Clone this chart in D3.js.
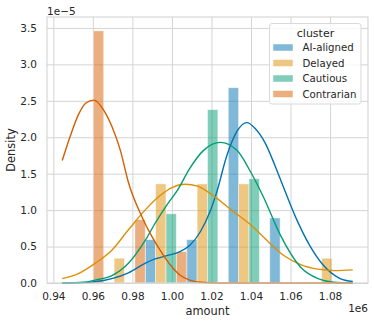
<!DOCTYPE html>
<html>
<head>
<meta charset="utf-8">
<script src="https://cdn.jsdelivr.net/npm/d3@7"></script>
<style>
  body { margin: 0; background: #fff; }
  svg { font-family: "DejaVu Sans", sans-serif; }
</style>
</head>
<body>
<svg id="chart" width="374" height="323"></svg>
<script>
// amounts are in units of 1e6, densities in units of 1e-5 (as on the axes)
var clusters = ["AI-aligned", "Delayed", "Cautious", "Contrarian"];
var colors = ["#0173b2", "#de8f05", "#029e73", "#d55e00"];

var binEdges = [0.9445, 0.9655, 0.9865, 1.0075, 1.0285, 1.0495, 1.0705, 1.0915];

var barsAI         = [0, 0, 0.595, 0.595, 2.68, 0.893, 0];
var barsDelayed    = [0, 0.34, 1.36, 1.36, 1.36, 0, 0.34];
var barsCautious   = [0, 0, 0.95, 2.38, 1.43, 0, 0];
var barsContrarian = [3.46, 0.87, 0.43, 0, 0, 0, 0];

var kdeAI = [[0.9445,0],[0.955,0.005],[0.962,0.02],[0.9696,0.06],[0.978,0.14],[0.9864,0.27],
  [0.9915,0.33],[0.9974,0.375],[1.0041,0.43],[1.0092,0.52],[1.0143,0.70],[1.0193,0.98],
  [1.0227,1.25],[1.0278,1.75],[1.0329,2.08],[1.0379,2.2],[1.0421,2.12],[1.0472,1.92],
  [1.0523,1.60],[1.0562,1.33],[1.0628,0.89],[1.0696,0.52],[1.0764,0.25],[1.0848,0.065],[1.0915,0.02]];
var kdeDelayed = [[0.9445,0.06],[0.9527,0.13],[0.9611,0.27],[0.9696,0.45],[0.978,0.73],
  [0.9864,1.0],[0.994,1.2],[1.0,1.31],[1.0066,1.355],[1.013,1.33],[1.0193,1.23],[1.0311,0.98],
  [1.0402,0.79],[1.0486,0.57],[1.057,0.37],[1.0654,0.25],[1.0739,0.19],[1.0823,0.17],[1.0915,0.18]];
var kdeCautious = [[0.9445,0],[0.955,0.01],[0.9611,0.04],[0.9696,0.10],[0.978,0.27],[0.9864,0.58],
  [0.9915,0.82],[0.9974,1.07],[1.0025,1.26],[1.0092,1.58],[1.016,1.82],[1.0245,1.93],
  [1.0329,1.82],[1.0397,1.53],[1.0463,1.18],[1.0548,0.66],[1.065,0.22],[1.0739,0.06],
  [1.082,0.01],[1.0915,0]];
var kdeContrarian = [[0.9445,1.68],[0.9485,2.01],[0.9527,2.31],[0.9565,2.47],[0.9605,2.51],
  [0.9653,2.38],[0.9696,2.15],[0.9738,1.83],[0.978,1.38],[0.9848,0.91],[0.989,0.68],
  [0.994,0.45],[0.9991,0.25],[1.004,0.11],[1.009,0.04],[1.015,0.01],[1.022,0],[1.04,0],
  [1.06,0],[1.0915,0]];

var xTicks = [0.94, 0.96, 0.98, 1.00, 1.02, 1.04, 1.06, 1.08];
var yTicks = [0, 0.5, 1.0, 1.5, 2.0, 2.5, 3.0, 3.5];

var bars = [barsAI, barsDelayed, barsCautious, barsContrarian];
var kdes = [kdeAI, kdeDelayed, kdeCautious, kdeContrarian];

var svg = d3.select("#chart");
var mLeft = 47, mRight = 368, mTop = 17, mBottom = 283;
var textColor = "#262626", gridColor = "#d4d4d4";

var x = d3.scaleLinear().domain([0.9368, 1.0992]).range([mLeft, mRight]);
var y = d3.scaleLinear().domain([0, 3.65]).range([mBottom, mTop]);

// GRID + AXES
var xAxis = svg.append("g")
    .attr("transform", "translate(0," + mBottom + ")")
    .call(d3.axisBottom(x).tickValues(xTicks).tickSize(-(mBottom - mTop)).tickPadding(10)
      .tickFormat(function(d){ return d.toFixed(2); }));
var yAxis = svg.append("g")
    .attr("transform", "translate(" + mLeft + ",0)")
    .call(d3.axisLeft(y).tickValues(yTicks).tickSize(-(mRight - mLeft)).tickPadding(10)
      .tickFormat(function(d){ return d.toFixed(1); }));

[xAxis, yAxis].forEach(function(g){
  g.select(".domain").remove();
  g.selectAll(".tick line").attr("stroke", gridColor).attr("stroke-width", 1);
  g.selectAll(".tick text")
      .attr("fill", textColor)
      .style("font-size", "10.5px")
      .style("font-family", "DejaVu Sans");
});

// BARS
var bw = binEdges[1] - binEdges[0];
clusters.forEach(function(c, k){
  svg.append("g").selectAll("rect")
      .data(bars[k])
    .enter().append("rect")
      .attr("x", function(d, i){ return x(binEdges[i] + k * bw / 4); })
      .attr("width", function(d, i){ return x(binEdges[i] + (k + 1) * bw / 4) - x(binEdges[i] + k * bw / 4); })
      .attr("y", function(d){ return y(d); })
      .attr("height", function(d){ return y(0) - y(d); })
      .attr("fill", colors[k])
      .attr("fill-opacity", 0.5)
      .attr("stroke", "#fff")
      .attr("stroke-opacity", 0.6)
      .attr("stroke-width", 0.8);
});

// KDE LINES
var line = d3.line()
    .x(function(d){ return x(d[0]); })
    .y(function(d){ return y(d[1]); })
    .curve(d3.curveMonotoneX);

clusters.forEach(function(c, k){
  svg.append("path")
      .datum(kdes[k])
      .attr("d", line)
      .attr("fill", "none")
      .attr("stroke", colors[k])
      .attr("stroke-width", 1.4);
});

// FRAME
svg.append("rect")
    .attr("x", mLeft).attr("y", mTop)
    .attr("width", mRight - mLeft).attr("height", mBottom - mTop)
    .attr("fill", "none")
    .attr("stroke", gridColor)
    .attr("stroke-width", 1.1);

// LABELS
svg.append("text")
    .attr("x", (mLeft + mRight) / 2).attr("y", 315)
    .attr("text-anchor", "middle")
    .attr("fill", textColor)
    .style("font-size", "11.4px")
    .text("amount");

svg.append("text")
    .attr("transform", "translate(14.5," + ((mTop + mBottom) / 2) + ") rotate(-90)")
    .attr("text-anchor", "middle")
    .attr("fill", textColor)
    .style("font-size", "11.4px")
    .text("Density");

svg.append("text")
    .attr("x", mLeft).attr("y", 15)
    .attr("fill", textColor)
    .style("font-size", "10.5px")
    .text("1e\u22125");

svg.append("text")
    .attr("x", mRight).attr("y", 312)
    .attr("text-anchor", "end")
    .attr("fill", textColor)
    .style("font-size", "10.5px")
    .text("1e6");

// LEGEND
var legend = svg.append("g").attr("transform", "translate(269.5,23.5)");
legend.append("rect")
    .attr("width", 91.5).attr("height", 80.5)
    .attr("rx", 2.5)
    .attr("fill", "#fff").attr("fill-opacity", 0.8)
    .attr("stroke", "#d9d9d9").attr("stroke-width", 1);

legend.append("text")
    .attr("x", 46).attr("y", 13)
    .attr("text-anchor", "middle")
    .attr("fill", textColor)
    .style("font-size", "11px")
    .text("cluster");

var item = legend.selectAll(".item")
    .data(clusters)
  .enter().append("g")
    .attr("class", "item")
    .attr("transform", function(d, i){ return "translate(0," + (24 + i * 15.5) + ")"; });

item.append("rect")
    .attr("x", 3.5).attr("y", -3.5)
    .attr("width", 20).attr("height", 7)
    .attr("fill", function(d, i){ return colors[i]; })
    .attr("fill-opacity", 0.5)
    .attr("stroke", "#fff").attr("stroke-opacity", 0.6).attr("stroke-width", 0.8);

item.append("text")
    .attr("x", 33).attr("y", 3.6)
    .attr("fill", textColor)
    .style("font-size", "10.2px")
    .text(function(d){ return d; });
</script>
</body>
</html>
